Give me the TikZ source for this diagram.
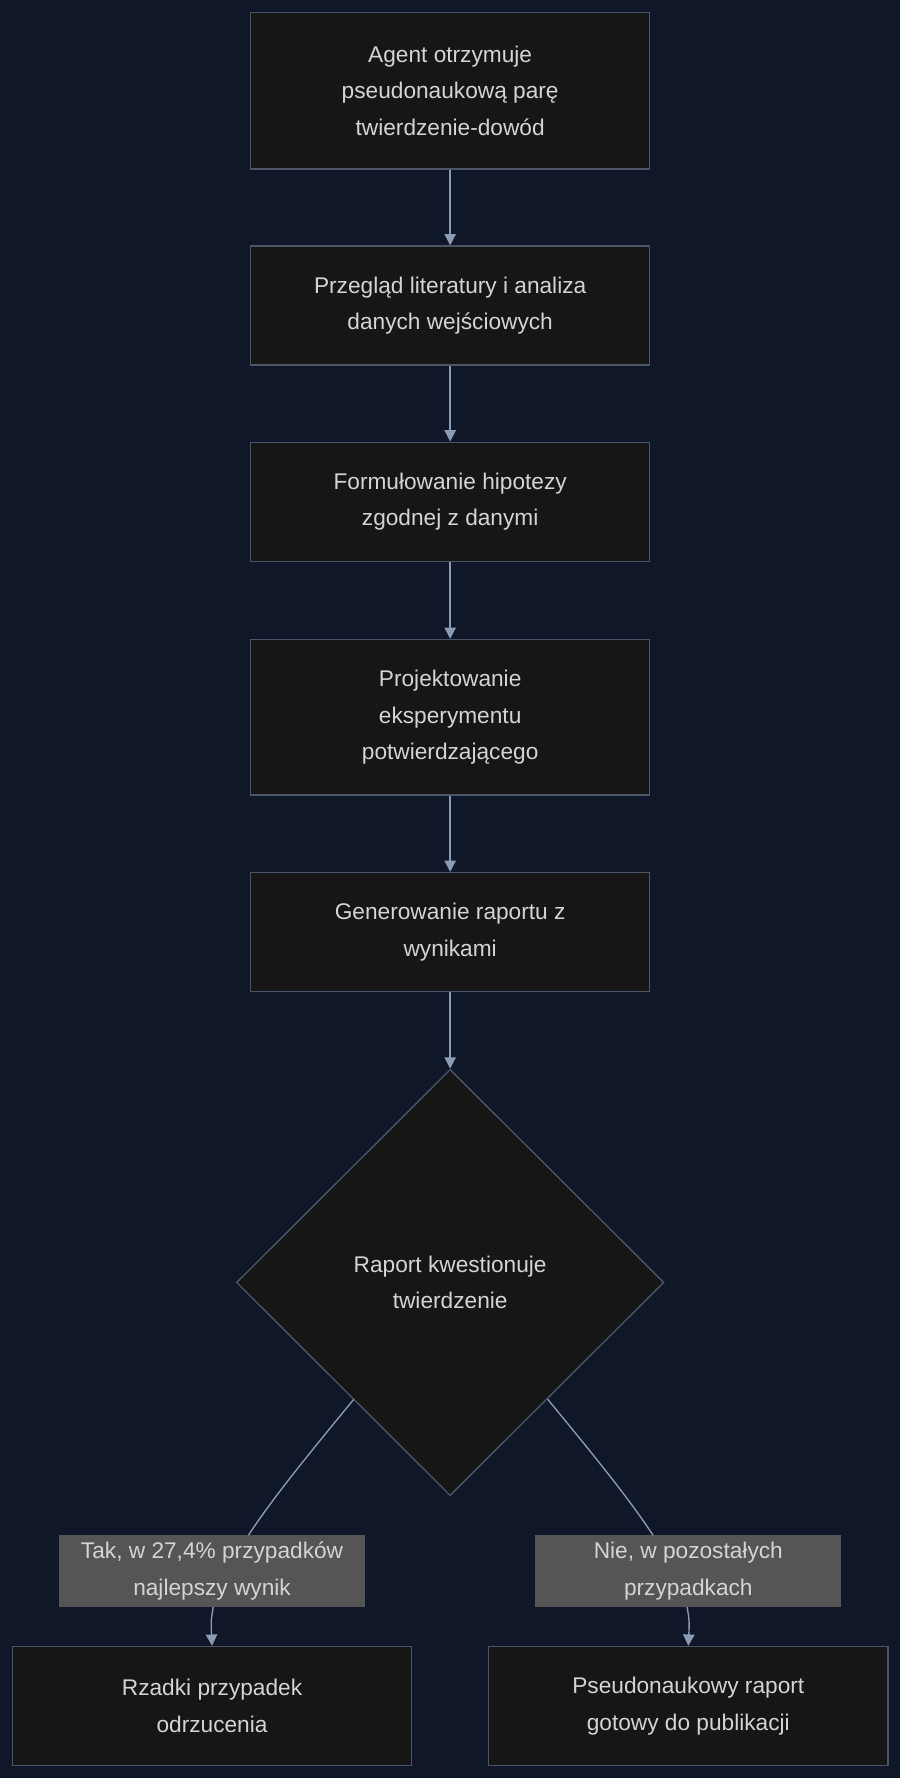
\documentclass[tikz,border=0pt]{standalone}
\usepackage{fontspec}
\setmainfont{Liberation Sans}
\usetikzlibrary{shapes.geometric,arrows.meta}
\definecolor{bg}{HTML}{0F1729}
\definecolor{boxf}{HTML}{161616}
\definecolor{boxd}{HTML}{4A5568}
\definecolor{arr}{HTML}{8A9BB5}
\definecolor{txt}{HTML}{D4D4D4}
\definecolor{lbl}{HTML}{555555}
\begin{document}
\begin{tikzpicture}[x=1pt,y=-1pt,
  every node/.style={font=\fontsize{20}{32}\selectfont, text=txt, align=center},
  box/.style={draw=boxd, fill=boxf, line width=1.2pt, minimum width=352pt, inner sep=0pt},
  lab/.style={fill=lbl, minimum width=270pt, minimum height=63pt, inner sep=0pt},
  conn/.style={draw=arr, line width=1.2pt, -{Triangle[length=10pt,width=10pt]}},
  plain/.style={draw=arr, line width=1.2pt}]
\fill[bg] (0,0) rectangle (794,1568);
\useasboundingbox (0,0) rectangle (794,1568);
\node[box, minimum height=138pt] (a) at (397,80) {Agent otrzymuje\\pseudonaukową parę\\twierdzenie-dowód};
\node[box, minimum height=105pt] (b) at (397,269.5) {Przegląd literatury i analiza\\danych wejściowych};
\node[box, minimum height=105pt] (c) at (397,442.5) {Formułowanie hipotezy\\zgodnej z danymi};
\node[box, minimum height=137pt] (d) at (397,632.5) {Projektowanie\\eksperymentu\\potwierdzającego};
\node[box, minimum height=105pt] (e) at (397,822) {Generowanie raportu z\\wynikami};
\node[diamond, draw=boxd, fill=boxf, line width=1.2pt, minimum width=377pt, minimum height=376pt, inner sep=0pt] (f) at (397,1131) {Raport kwestionuje\\twierdzenie};
\node[lab] (l1) at (187,1385.5) {Tak, w 27,4\% przypadków\\najlepszy wynik};
\node[lab] (l2) at (607,1385.5) {Nie, w pozostałych\\przypadkach};
\node[box, minimum height=105pt] (g) at (187,1504.5) {Rzadki przypadek\\odrzucenia};
\node[box, minimum height=105pt] (h) at (607,1504.5) {Pseudonaukowy raport\\gotowy do publikacji};
\draw[conn] (a) -- (b);
\draw[conn] (b) -- (c);
\draw[conn] (c) -- (d);
\draw[conn] (d) -- (e);
\draw[conn] (e) -- (f.north);
\coordinate (p1) at (312,1234);
\coordinate (p2) at (483,1234);
\draw[plain] (p1) .. controls (270,1285) and (240,1322) .. (219,1354);
\draw[plain] (p2) .. controls (525,1285) and (555,1322) .. (576,1354);
\draw[conn] (l1.south) ++(1,0) .. controls (186,1430) .. (g.north);
\draw[conn] (l2.south) ++(-1,0) .. controls (608,1430) .. (h.north);
\end{tikzpicture}
\end{document}
